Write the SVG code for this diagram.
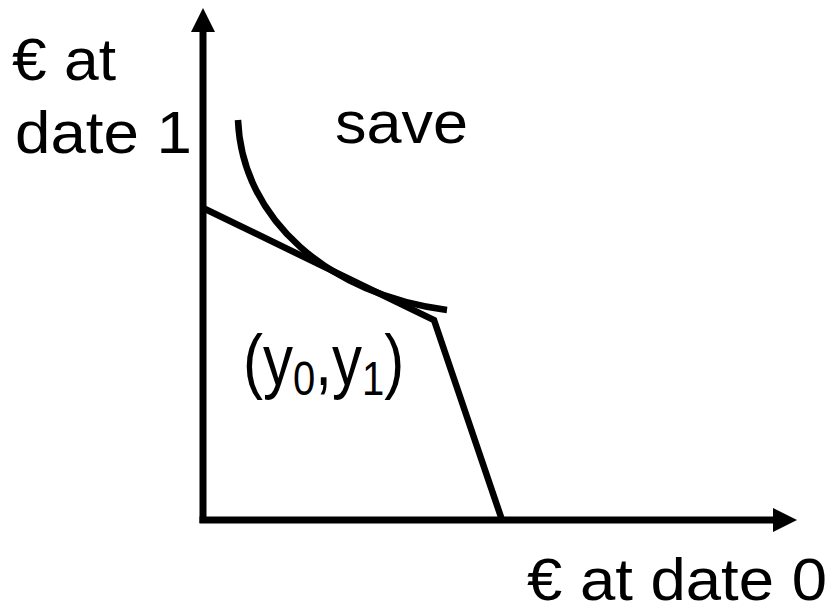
<svg xmlns="http://www.w3.org/2000/svg" width="835" height="613" viewBox="0 0 835 613">
<style>
.t{font-family:"Liberation Sans",Arial,sans-serif;font-size:60px;fill:#000}
.ln{fill:none;stroke:#000;stroke-width:6.5}
</style>
<rect width="835" height="613" fill="#fff"/>
<g id="axes">
<line x1="203" y1="523" x2="203" y2="30" stroke="#000" stroke-width="7"/>
<polygon points="203,8 191,32 215,32" fill="#000"/>
<line x1="199.5" y1="520" x2="775" y2="520" stroke="#000" stroke-width="7"/>
<polygon points="797,520 773,508 773,532" fill="#000"/>
</g>
<g id="connectors">
<polyline class="ln" points="203,208 434,320 502,520" stroke-linejoin="miter"/>
<path class="ln" d="M238,120 C242,220 330,295 447,310" stroke-width="7.5"/>
</g>
<g id="labels">
<text class="t" x="12" y="80" font-size="56" textLength="104" lengthAdjust="spacingAndGlyphs">€ at</text>
<text class="t" x="15" y="153" font-size="56" textLength="177" lengthAdjust="spacingAndGlyphs">date 1</text>
<text class="t" x="335" y="143" font-size="61" textLength="133" lengthAdjust="spacingAndGlyphs">save</text>
<text class="t" x="527" y="600" font-size="61" textLength="300" lengthAdjust="spacingAndGlyphs">€ at date 0</text>
<text class="t" transform="translate(243,385) scale(1,1.2)" x="0" y="0" font-size="57">(y<tspan font-size="40" dy="8">0</tspan><tspan dy="-8">,y</tspan><tspan font-size="40" dy="8">1</tspan><tspan dy="-8">)</tspan></text>
</g>
</svg>
